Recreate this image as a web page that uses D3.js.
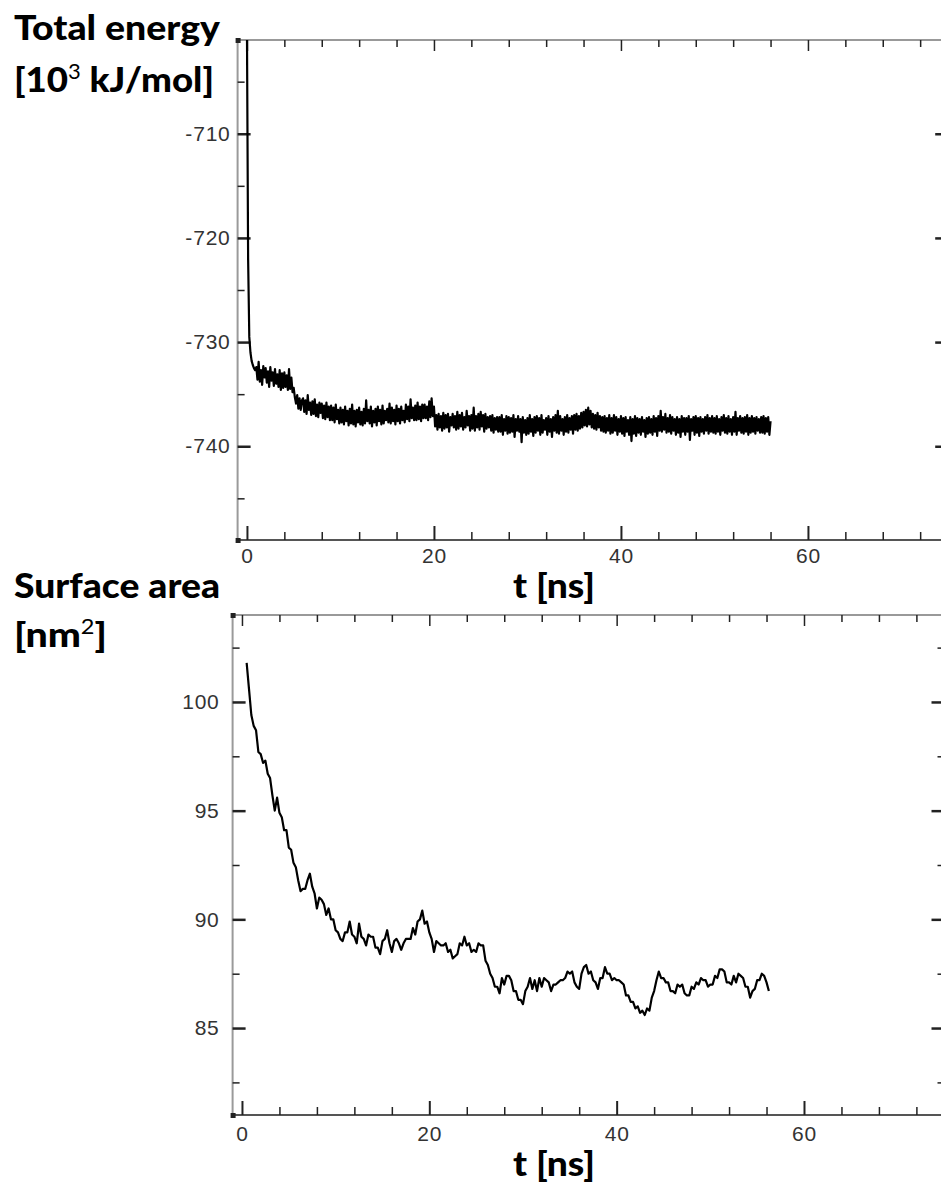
<!DOCTYPE html>
<html>
<head>
<meta charset="utf-8">
<script src="https://cdn.jsdelivr.net/npm/d3@7"></script>
<style>
  body { margin: 0; background: #fff; }
  .tick-label { font-family: 'Liberation Sans', Arial, sans-serif; font-size: 21px; letter-spacing: 0.8px; fill: #333; }
  .title-text { font-family: Lato, 'Open Sans', sans-serif; font-weight: 900; font-size: 35px; fill: #000; }
</style>
</head>
<body>
<svg id="chart" width="941" height="1187"></svg>
<script>
// total energy [10^3 kJ/mol], sampled every 0.125 ns from t = 0
const energyStart = 0;
const energyStep = 0.125;
const energyValues = [
  -700.0, -722.0, -729.5, -731.0, -731.8, -732.2, -732.5, -732.7,
  -732.4, -733.6, -731.9, -733.8, -732.7, -734.1, -732.3, -733.4,
  -732.5, -733.9, -732.8, -734.3, -732.4, -733.7, -732.9, -734.2,
  -732.6, -734.0, -733.1, -734.3, -732.7, -734.6, -733.0, -734.4,
  -732.9, -734.3, -733.2, -734.6, -732.6, -734.5, -733.4, -734.8,
  -734.4, -735.3, -735.9, -735.1, -736.4, -735.4, -736.5, -735.6,
  -735.4, -736.7, -735.6, -736.9, -735.1, -736.5, -735.8, -737.0,
  -735.7, -736.9, -735.5, -737.1, -736.0, -737.2, -735.8, -736.8,
  -735.9, -737.3, -736.1, -737.4, -735.8, -737.2, -736.2, -737.5,
  -736.1, -737.5, -736.3, -737.7, -736.0, -737.4, -736.5, -737.8,
  -736.3, -737.7, -736.5, -737.9, -736.2, -737.6, -736.6, -738.0,
  -736.4, -737.8, -736.0, -737.9, -736.6, -738.1, -736.5, -737.7,
  -736.3, -737.9, -736.7, -738.0, -736.4, -737.8, -735.6, -737.6,
  -736.5, -737.8, -736.2, -738.1, -736.6, -737.7, -736.4, -738.0,
  -736.2, -737.6, -736.5, -737.9, -736.1, -737.8, -736.6, -737.5,
  -736.4, -737.7, -735.9, -737.8, -736.3, -737.6, -736.5, -737.9,
  -736.1, -737.6, -736.4, -737.8, -736.2, -737.5, -736.6, -737.7,
  -736.0, -737.4, -736.2, -737.6, -735.5, -737.3, -736.3, -737.5,
  -736.1, -737.5, -735.8, -737.4, -736.2, -737.6, -736.0, -737.3,
  -736.0, -737.3, -736.2, -737.5, -735.7, -737.2, -735.4, -737.1,
  -736.2, -738.1, -737.0, -738.4, -736.9, -738.2, -737.1, -738.5,
  -736.8, -738.3, -737.0, -738.2, -736.9, -738.6, -737.2, -738.0,
  -736.9, -738.2, -737.1, -738.4, -736.7, -738.3, -737.0, -738.1,
  -736.8, -738.4, -737.2, -738.2, -736.6, -738.0, -737.1, -738.5,
  -737.0, -738.3, -736.3, -738.5, -737.1, -738.2, -736.9, -738.4,
  -736.7, -738.1, -737.0, -738.6, -736.9, -738.3, -737.2, -738.2,
  -737.1, -738.5, -737.0, -738.7, -737.3, -738.4, -737.2, -738.6,
  -737.2, -738.6, -737.0, -738.9, -737.4, -738.5, -737.1, -738.8,
  -737.2, -738.7, -737.3, -738.6, -737.0, -739.1, -737.4, -738.5,
  -737.1, -738.6, -737.4, -739.6, -737.2, -738.7, -737.5, -738.9,
  -737.3, -738.8, -737.0, -738.6, -737.4, -739.0, -737.2, -738.7,
  -737.1, -738.5, -737.3, -738.9, -737.0, -738.7, -737.5, -738.4,
  -737.3, -738.9, -737.1, -738.6, -737.4, -739.1, -737.2, -738.5,
  -737.0, -738.7, -736.6, -738.8, -737.1, -738.5, -737.4, -738.9,
  -737.2, -738.6, -737.0, -738.7, -737.3, -738.4, -737.1, -738.8,
  -737.0, -738.4, -736.9, -738.5, -737.1, -738.3, -736.8, -738.2,
  -736.7, -738.0, -736.5, -738.1, -736.3, -737.9, -736.6, -738.2,
  -736.9, -738.3, -737.0, -738.4, -736.8, -738.2, -737.1, -738.5,
  -737.2, -738.6, -737.1, -738.7, -737.3, -738.5, -737.0, -738.8,
  -737.3, -738.7, -737.0, -738.5, -737.2, -738.9, -737.4, -738.6,
  -737.1, -738.8, -737.3, -739.0, -737.2, -738.6, -737.5, -738.9,
  -737.2, -739.5, -737.4, -738.8, -737.1, -739.0, -737.3, -738.7,
  -737.4, -738.9, -737.2, -738.6, -737.5, -739.1, -737.3, -738.8,
  -737.2, -738.7, -737.4, -738.9, -737.1, -738.6, -737.3, -739.0,
  -737.1, -738.5, -736.6, -738.6, -737.2, -738.4, -736.9, -738.7,
  -737.3, -738.6, -737.0, -738.8, -737.2, -738.5, -737.4, -738.9,
  -737.2, -738.7, -737.4, -739.1, -737.1, -738.6, -737.3, -738.9,
  -737.3, -738.6, -737.1, -739.4, -737.4, -738.5, -737.2, -738.9,
  -737.1, -738.7, -737.3, -739.0, -737.2, -738.6, -737.4, -738.8,
  -737.2, -738.5, -737.0, -738.8, -737.3, -738.6, -737.1, -738.7,
  -737.3, -738.8, -737.1, -738.6, -737.4, -738.9, -737.2, -738.5,
  -737.0, -738.7, -737.3, -738.8, -737.1, -738.6, -737.4, -738.9,
  -737.2, -738.6, -736.7, -738.9, -737.3, -738.5, -737.1, -738.7,
  -737.3, -738.8, -737.2, -738.6, -737.0, -738.9, -737.3, -738.7,
  -737.1, -738.6, -737.3, -738.8, -737.2, -738.5, -737.4, -738.7,
  -737.2, -738.7, -737.1, -738.8, -737.3, -738.6, -737.2, -738.9,
  -737.6,
];

// surface area [nm^2], sampled every 0.25 ns from t = 0.5
const areaStart = 0.5;
const areaStep = 0.25;
const areaValues = [
  101.8, 100.6,
  99.4, 98.9, 98.7, 97.7,
  97.6, 97.2, 97.3, 96.7,
  96.5, 95.7, 95.0, 95.6,
  94.9, 94.7, 94.1, 94.1,
  93.3, 93.2, 92.6, 92.4,
  91.8, 91.3, 91.4, 91.4,
  91.8, 92.1, 91.5, 91.2,
  90.5, 91.0, 90.9, 90.7,
  90.2, 90.5, 90.0, 90.0,
  89.5, 89.4, 89.1, 89.0,
  89.4, 89.4, 89.9, 89.3,
  89.2, 88.9, 89.8, 89.2,
  89.1, 88.8, 89.3, 89.2,
  89.2, 88.7, 88.7, 88.4,
  89.0, 89.1, 89.5, 88.9,
  88.5, 89.0, 89.1, 88.9,
  88.6, 88.9, 89.1, 89.1,
  89.1, 89.6, 89.3, 89.9,
  90.0, 90.4, 89.8, 89.9,
  89.4, 89.1, 88.5, 89.0,
  88.9, 88.8, 88.8, 88.9,
  88.5, 88.6, 88.2, 88.3,
  88.4, 88.9, 88.8, 89.2,
  88.8, 88.9, 88.5, 88.6,
  88.5, 88.9, 88.8, 88.8,
  88.1, 87.9, 87.5, 87.3,
  86.9, 86.9, 86.6, 87.3,
  87.0, 87.4, 87.4, 87.2,
  86.7, 86.7, 86.3, 86.3,
  86.1, 86.7, 86.9, 87.3,
  86.8, 87.2, 86.7, 87.3,
  86.9, 87.3, 87.2, 87.1,
  86.7, 87.0, 87.0, 87.1,
  87.2, 87.2, 87.3, 87.6,
  87.5, 87.6, 87.1, 86.9,
  86.8, 87.5, 87.8, 87.9,
  87.5, 87.6, 87.2, 87.1,
  86.8, 87.3, 87.3, 87.8,
  87.5, 87.5, 87.2, 87.3,
  87.2, 87.2, 87.1, 87.0,
  86.5, 86.5, 86.2, 86.2,
  85.9, 86.0, 85.7, 85.8,
  85.6, 85.9, 85.8, 86.4,
  86.7, 87.2, 87.6, 87.3,
  87.3, 87.1, 87.1, 86.7,
  86.7, 86.6, 87.0, 86.9,
  87.0, 86.6, 86.5, 86.5,
  86.9, 86.8, 87.1, 87.0,
  87.3, 87.2, 87.2, 86.9,
  87.0, 87.0, 87.4, 87.3,
  87.7, 87.7, 87.6, 87.1,
  87.1, 87.0, 87.4, 87.1,
  87.5, 87.4, 87.3, 86.9,
  86.9, 86.4, 86.7, 86.8,
  87.2, 87.2, 87.5, 87.4,
  87.1, 86.7,
];

const timeDomain = [-1, 75];
const timeMajorTicks = [0, 20, 40, 60];
const timeMinorTicks = [4, 8, 12, 16, 24, 28, 32, 36, 44, 48, 52, 56, 64, 68, 72];
const energyDomain = [-749, -701];
const energyMajorTicks = [-740, -730, -720, -710];
const energyMinorTicks = [-745, -735, -725, -715, -705];
const areaDomain = [81, 104];
const areaMajorTicks = [85, 90, 95, 100];
const areaMinorTicks = [82.5, 87.5, 92.5, 97.5, 102.5];

const svg = d3.select('#chart');

/* Method to append one axis with major or minor inward ticks
   Params: @g is the group that will hold the axis
           @axis is the configured d3 axis
           @tickWidth is the stroke width of the tick lines
*/
function AppendAxis(g, axis, tickWidth) {
  g.call(axis);
  g.select('.domain').remove();
  g.selectAll('.tick line').attr('stroke', '#222').attr('stroke-width', tickWidth);
  g.selectAll('.tick text').attr('class', 'tick-label');
  return g;
}

/* Method to append a bold label squeezed to a given width
   Params: @x @y is the baseline start, @width is the wanted text width
*/
function AppendBoldLabel(x, y, width, label) {
  return svg.append('text').classed('title-text', true)
    .attr('x', x).attr('y', y)
    .attr('textLength', width).attr('lengthAdjust', 'spacingAndGlyphs')
    .text(label);
}

/* Method to draw a complete panel: frame, ticks, labels and trace
   Params: @cfg holds the pixel box, the y domain, the ticks and the series
*/
function AppendPanel(cfg) {
  const x = d3.scaleLinear().domain(timeDomain).range([cfg.left, cfg.right]);
  const y = d3.scaleLinear().domain(cfg.yDomain).range([cfg.bottom, cfg.top]);
  const panel = svg.append('g').attr('id', cfg.id);

  // frame lines
  panel.append('line').attr('x1', cfg.left).attr('x2', cfg.right)
    .attr('y1', cfg.top).attr('y2', cfg.top)
    .attr('stroke', '#777').attr('stroke-width', 1.5);
  panel.append('line').attr('x1', cfg.left).attr('x2', cfg.right)
    .attr('y1', cfg.bottom).attr('y2', cfg.bottom)
    .attr('stroke', '#555').attr('stroke-width', 2);
  panel.append('line').attr('x1', cfg.left).attr('x2', cfg.left)
    .attr('y1', cfg.top).attr('y2', cfg.bottom)
    .attr('stroke', '#9a9a9a').attr('stroke-width', 2);
  panel.append('line').attr('x1', cfg.right).attr('x2', cfg.right)
    .attr('y1', cfg.top).attr('y2', cfg.bottom)
    .attr('stroke', '#555').attr('stroke-width', 2);

  const fmt = (d) => String(d);
  const noFmt = () => '';

  AppendAxis(panel.append('g').attr('transform', `translate(0,${cfg.bottom})`),
    d3.axisBottom(x).tickValues(timeMajorTicks).tickSize(-14)
      .tickPadding(cfg.xPad).tickFormat(fmt), 2);
  AppendAxis(panel.append('g').attr('transform', `translate(0,${cfg.bottom})`),
    d3.axisBottom(x).tickValues(timeMinorTicks).tickSize(-8).tickFormat(noFmt), 1.5);
  AppendAxis(panel.append('g').attr('transform', `translate(0,${cfg.top})`),
    d3.axisTop(x).tickValues(timeMajorTicks).tickSize(-11).tickFormat(noFmt), 1.5);
  AppendAxis(panel.append('g').attr('transform', `translate(0,${cfg.top})`),
    d3.axisTop(x).tickValues(timeMinorTicks).tickSize(-7).tickFormat(noFmt), 1.5);
  AppendAxis(panel.append('g').attr('transform', `translate(${cfg.left},0)`),
    d3.axisLeft(y).tickValues(cfg.majorTicks).tickSize(-13)
      .tickPadding(cfg.yPad).tickFormat(fmt), 2.5);
  AppendAxis(panel.append('g').attr('transform', `translate(${cfg.left},0)`),
    d3.axisLeft(y).tickValues(cfg.minorTicks).tickSize(-7).tickFormat(noFmt), 1.5);
  AppendAxis(panel.append('g').attr('transform', `translate(${cfg.right},0)`),
    d3.axisRight(y).tickValues(cfg.majorTicks).tickSize(-13).tickFormat(noFmt), 2.5);
  AppendAxis(panel.append('g').attr('transform', `translate(${cfg.right},0)`),
    d3.axisRight(y).tickValues(cfg.minorTicks).tickSize(-7).tickFormat(noFmt), 1.5);

  // little corner squares left by the plotting program
  [cfg.top, cfg.bottom].forEach((cy) => {
    panel.append('rect').attr('x', cfg.left - 2).attr('y', cy - 2)
      .attr('width', 5).attr('height', 5).attr('fill', '#222');
  });

  const clipId = `${cfg.id}-clip`;
  panel.append('clipPath').attr('id', clipId)
    .append('rect').attr('x', cfg.left).attr('y', cfg.top)
    .attr('width', cfg.right - cfg.left).attr('height', cfg.bottom - cfg.top);

  const line = d3.line()
    .x((d, i) => x(cfg.start + i * cfg.step))
    .y((d) => y(d));
  panel.append('path')
    .datum(cfg.values)
    .attr('clip-path', `url(#${clipId})`)
    .attr('d', line)
    .attr('fill', 'none')
    .attr('stroke', '#000')
    .attr('stroke-width', cfg.lineWidth)
    .attr('stroke-linejoin', 'round');

  // t [ns] label under the axis
  AppendBoldLabel(513, cfg.bottom + cfg.tLabelDy, 82, 't [ns]');
}

/* Method to append a two line title at the top left of a panel
   Params: @y1 @y2 are the baselines, @w1 @w2 the widths of the lines,
           @before @sup @after build the second line with a superscript
*/
function AppendTitle(y1, y2, w1, w2, first, before, sup, after) {
  AppendBoldLabel(14, y1, w1, first);
  const second = svg.append('text').classed('title-text', true)
    .attr('x', 14).attr('y', y2)
    .attr('textLength', w2).attr('lengthAdjust', 'spacingAndGlyphs');
  second.append('tspan').text(before);
  second.append('tspan').attr('dy', -13).style('font-size', '21px')
    .style('font-weight', 400).text(sup);
  second.append('tspan').attr('dy', 13).text(after);
}

AppendPanel({
  id: 'energy-panel',
  left: 237.6, right: 948.2, top: 40, bottom: 540,
  yDomain: energyDomain, majorTicks: energyMajorTicks, minorTicks: energyMinorTicks,
  xPad: 8, yPad: 7, tLabelDy: 58,
  start: energyStart, step: energyStep, values: energyValues, lineWidth: 2.2,
});

AppendPanel({
  id: 'area-panel',
  left: 232.6, right: 944.5, top: 615, bottom: 1115,
  yDomain: areaDomain, majorTicks: areaMajorTicks, minorTicks: areaMinorTicks,
  xPad: 11, yPad: 13, tLabelDy: 61,
  start: areaStart, step: areaStep, values: areaValues, lineWidth: 2.2,
});

AppendTitle(40, 92, 206, 200, 'Total energy', '[10', '3', ' kJ/mol]');
AppendTitle(598, 647, 206, 93, 'Surface area', '[nm', '2', ']');
</script>
</body>
</html>
